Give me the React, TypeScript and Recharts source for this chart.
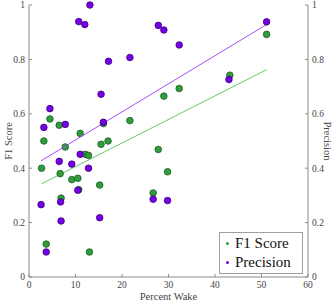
import React from "react";
import { Scatter, ScatterChart, XAxis, YAxis } from "recharts";

const f1Wake = [4.5, 6.5, 3.2, 11.0, 7.8, 15.5, 17.0, 16.0, 21.7, 27.8, 29.0, 32.3, 43.2, 51.1, 2.7, 6.7, 12.1, 12.8, 9.2, 10.5, 10.7, 6.9, 15.2, 3.7, 13.0, 26.7, 29.8];
const f1Score = [0.581, 0.558, 0.5, 0.528, 0.478, 0.488, 0.5, 0.564, 0.575, 0.469, 0.665, 0.693, 0.742, 0.892, 0.4, 0.38, 0.451, 0.447, 0.358, 0.363, 0.321, 0.29, 0.338, 0.121, 0.092, 0.309, 0.387];

const precWake = [13.1, 10.7, 12.0, 17.1, 21.7, 15.5, 16.0, 4.5, 3.2, 7.8, 6.5, 9.2, 11.0, 12.8, 2.6, 6.8, 6.9, 10.5, 15.2, 3.7, 26.7, 29.8, 27.8, 29.0, 32.3, 43.0, 51.1];
const precision = [1.0, 0.939, 0.928, 0.793, 0.807, 0.672, 0.569, 0.619, 0.55, 0.561, 0.425, 0.415, 0.451, 0.4, 0.266, 0.276, 0.206, 0.319, 0.218, 0.092, 0.286, 0.281, 0.925, 0.908, 0.853, 0.726, 0.938];

const xTicks = [0, 10, 20, 30, 40, 50, 60];
const yTicks = [0, 0.2, 0.4, 0.6, 0.8, 1];

const f1Data = f1Wake.map((x, i) => ({ x, y: f1Score[i] }));
const precData = precWake.map((x, i) => ({ x, y: precision[i] }));

const font = "'Liberation Serif', 'Times New Roman', serif";
const axisGray = "#8a8a8a";
const tickStyle = { fontSize: 9.5, fill: "#444", fontFamily: font };
const labelStyle = { fontSize: 10.5, fill: "#444", fontFamily: font, textAnchor: "middle" as const };

const dot = (fill: string, stroke: string) => (p: any) => (
  <circle cx={p.cx} cy={p.cy} r={3.3} fill={fill} stroke={stroke} strokeWidth={0.8} />
);

const fmt = (v: number) => (v === 0 || v === 1 ? String(v) : v.toFixed(1));

function LegendBox() {
  const rows = [
    { label: "F1 Score", color: "#2e9e3a" },
    { label: "Precision", color: "#7300e6" },
  ];
  return (
    <div
      style={{
        position: "absolute",
        left: 219,
        top: 232,
        width: 84,
        boxSizing: "border-box",
        border: "1px solid #a0a0a0",
        background: "#fff",
        fontFamily: font,
        fontSize: 15,
        color: "#111",
        padding: "1px 2px 1px 6px",
        lineHeight: "19px",
      }}
    >
      {rows.map((r) => (
        <div key={r.label} style={{ display: "flex", alignItems: "center", whiteSpace: "nowrap" }}>
          <span
            style={{
              width: 3,
              height: 3,
              borderRadius: 2,
              background: r.color,
              marginRight: 6,
              display: "inline-block",
            }}
          />
          {r.label}
        </div>
      ))}
    </div>
  );
}

export default function App() {
  return (
    <div style={{ position: "fixed", left: 0, top: 0, width: 335, height: 303, background: "#fff", fontFamily: font }}>
      <style>{`.recharts-wrapper text, .recharts-text { font-family: 'Liberation Serif', 'Times New Roman', serif !important; }`}</style>
      <ScatterChart
        width={335}
        height={303}
        margin={{ top: 5, right: 0, bottom: 0, left: 0 }}
        style={{ fontFamily: font }}
      >
        <XAxis
          type="number"
          dataKey="x"
          domain={[0, 60]}
          ticks={xTicks}
          height={26}
          stroke={axisGray}
          tick={tickStyle}
          tickSize={-3}
          tickMargin={7}
          label={{ value: "Percent Wake", position: "insideBottom", offset: 3, style: labelStyle }}
        />
        <YAxis
          yAxisId="left"
          type="number"
          dataKey="y"
          domain={[0, 1]}
          ticks={yTicks}
          width={29}
          stroke={axisGray}
          tick={tickStyle}
          tickSize={-3}
          tickMargin={7}
          tickFormatter={fmt}
          label={{ value: "F1 Score", angle: -90, position: "insideLeft", offset: 8, style: labelStyle }}
        />
        <YAxis
          yAxisId="right"
          orientation="right"
          type="number"
          dataKey="y"
          domain={[0, 1]}
          ticks={yTicks}
          width={27}
          stroke={axisGray}
          tick={tickStyle}
          tickSize={-3}
          tickMargin={7}
          tickFormatter={fmt}
          label={{ value: "Precision", angle: 90, position: "insideRight", offset: 7, style: labelStyle }}
        />
        <Scatter
          name="F1 Score"
          yAxisId="left"
          data={f1Data}
          fill="#2e9e3a"
          line={{ stroke: "#66cc66", strokeWidth: 1 }}
          lineType="fitting"
          shape={dot("#2e9e3a", "#1d5a24")}
          isAnimationActive={false}
        />
        <Scatter
          name="Precision"
          yAxisId="right"
          data={precData}
          fill="#7300e6"
          line={{ stroke: "#a64dff", strokeWidth: 1 }}
          lineType="fitting"
          shape={dot("#7300e6", "#3d007a")}
          isAnimationActive={false}
        />
      </ScatterChart>
      <LegendBox />
    </div>
  );
}
